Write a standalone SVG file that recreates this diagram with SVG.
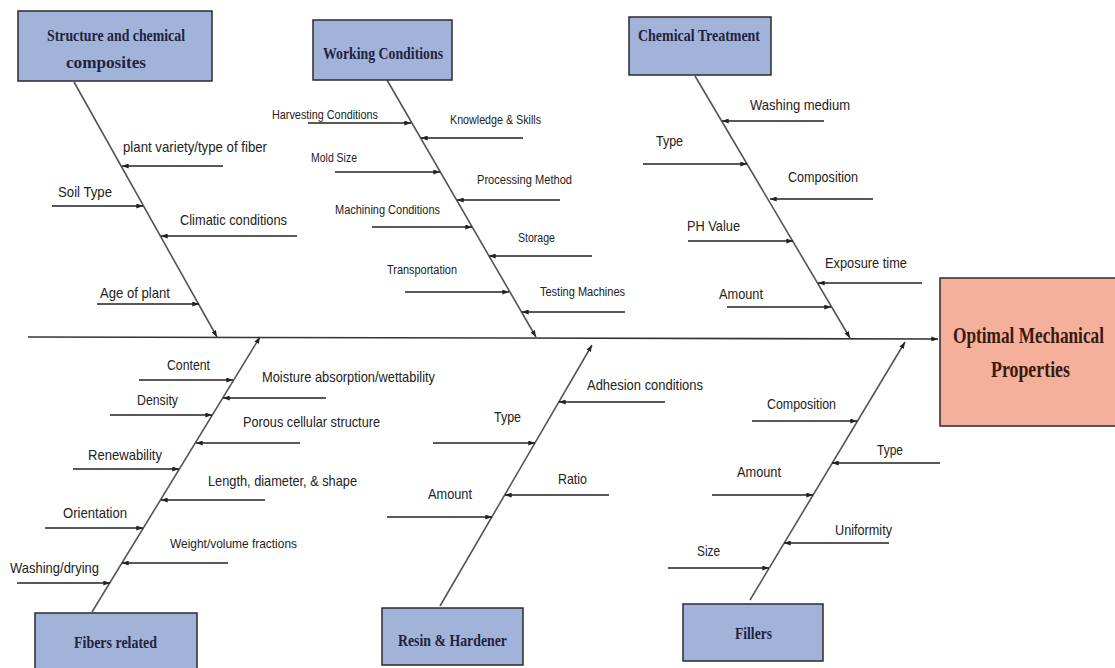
<svg xmlns="http://www.w3.org/2000/svg" width="1115" height="668" viewBox="0 0 1115 668">
<defs>
<marker id="ah" viewBox="0 0 8 6" refX="8" refY="3" markerWidth="7" markerHeight="5" markerUnits="userSpaceOnUse" orient="auto">
<path d="M0,0 L8,3 L0,6 Z" fill="#222"/>
</marker>
</defs>
<style>
.box{fill:#a2b3da;stroke:#2b2b2b;stroke-width:1.5}
.res{fill:#f4b09a;stroke:#2b2b2b;stroke-width:1.5}
.bt{font-family:"Liberation Serif",serif;font-weight:bold;font-size:17px;fill:#1e2340}
.rt{font-family:"Liberation Serif",serif;font-weight:bold;font-size:18px;fill:#3a1a10}
.lb{font-family:"Liberation Sans",sans-serif;font-size:15px;fill:#222}
.sm{font-family:"Liberation Sans",sans-serif;font-size:12px;fill:#222}
.bone{stroke:#555;stroke-width:1.6;fill:none}
.sub{stroke:#222;stroke-width:1.3;fill:none;marker-end:url(#ah)}
</style>
<rect width="1115" height="668" fill="#fff"/>

<g id="connectors">
<line x1="28" y1="337" x2="938" y2="339" stroke="#333" stroke-width="1.6" marker-end="url(#ah)"/>
<line class="bone" x1="74" y1="82" x2="217" y2="337" marker-end="url(#ah)"/>
<line class="bone" x1="387" y1="80" x2="536" y2="337" marker-end="url(#ah)"/>
<line class="bone" x1="695" y1="76" x2="850" y2="338" marker-end="url(#ah)"/>
<line class="bone" x1="92" y1="612" x2="260" y2="337" marker-end="url(#ah)"/>
<line class="bone" x1="440" y1="606" x2="592" y2="345" marker-end="url(#ah)"/>
<line class="bone" x1="750" y1="600" x2="905" y2="342" marker-end="url(#ah)"/>

<line class="sub" x1="223" y1="166" x2="122" y2="166"/>
<line class="sub" x1="52" y1="206" x2="143" y2="206"/>
<line class="sub" x1="297" y1="236" x2="161" y2="236"/>
<line class="sub" x1="97" y1="304" x2="199" y2="304"/>

<line class="sub" x1="308" y1="123" x2="411" y2="123"/>
<line class="sub" x1="523" y1="138" x2="421" y2="138"/>
<line class="sub" x1="335" y1="172" x2="440" y2="172"/>
<line class="sub" x1="560" y1="200" x2="457" y2="200"/>
<line class="sub" x1="372" y1="227" x2="472" y2="227"/>
<line class="sub" x1="592" y1="256" x2="489" y2="256"/>
<line class="sub" x1="405" y1="292" x2="509" y2="292"/>
<line class="sub" x1="625" y1="312" x2="522" y2="312"/>

<line class="sub" x1="824" y1="121" x2="722" y2="121"/>
<line class="sub" x1="643" y1="164" x2="747" y2="164"/>
<line class="sub" x1="873" y1="199" x2="770" y2="199"/>
<line class="sub" x1="688" y1="241" x2="793" y2="241"/>
<line class="sub" x1="922" y1="283" x2="818" y2="283"/>
<line class="sub" x1="727" y1="307" x2="831" y2="307"/>

<line class="sub" x1="139" y1="380" x2="233" y2="380"/>
<line class="sub" x1="326" y1="398" x2="223" y2="398"/>
<line class="sub" x1="110" y1="415" x2="212" y2="415"/>
<line class="sub" x1="300" y1="443" x2="196" y2="443"/>
<line class="sub" x1="73" y1="469" x2="179" y2="469"/>
<line class="sub" x1="265" y1="500" x2="161" y2="500"/>
<line class="sub" x1="45" y1="528" x2="143" y2="528"/>
<line class="sub" x1="228" y1="563" x2="122" y2="563"/>
<line class="sub" x1="17" y1="583" x2="110" y2="583"/>

<line class="sub" x1="665" y1="402" x2="559" y2="402"/>
<line class="sub" x1="433" y1="443" x2="535" y2="443"/>
<line class="sub" x1="609" y1="495" x2="505" y2="495"/>
<line class="sub" x1="387" y1="517" x2="492" y2="517"/>

<line class="sub" x1="752" y1="421" x2="857" y2="421"/>
<line class="sub" x1="940" y1="463" x2="832" y2="463"/>
<line class="sub" x1="712" y1="495" x2="813" y2="495"/>
<line class="sub" x1="889" y1="543" x2="784" y2="543"/>
<line class="sub" x1="668" y1="568" x2="769" y2="568"/>
</g>

<g id="labels">
<text class="lb" x="123" y="152" textLength="144" lengthAdjust="spacingAndGlyphs">plant variety/type of fiber</text>
<text class="lb" x="58" y="197" textLength="54" lengthAdjust="spacingAndGlyphs">Soil Type</text>
<text class="lb" x="180" y="225" textLength="107" lengthAdjust="spacingAndGlyphs">Climatic conditions</text>
<text class="lb" x="100" y="298" textLength="70" lengthAdjust="spacingAndGlyphs">Age of plant</text>

<text class="sm" x="272" y="119" textLength="106" lengthAdjust="spacingAndGlyphs">Harvesting Conditions</text>
<text class="sm" x="450" y="124" textLength="91" lengthAdjust="spacingAndGlyphs">Knowledge &amp; Skills</text>
<text class="sm" x="311" y="162" textLength="46" lengthAdjust="spacingAndGlyphs">Mold Size</text>
<text class="sm" x="477" y="184" textLength="95" lengthAdjust="spacingAndGlyphs">Processing Method</text>
<text class="sm" x="335" y="214" textLength="105" lengthAdjust="spacingAndGlyphs">Machining Conditions</text>
<text class="sm" x="518" y="242" textLength="37" lengthAdjust="spacingAndGlyphs">Storage</text>
<text class="sm" x="387" y="274" textLength="70" lengthAdjust="spacingAndGlyphs">Transportation</text>
<text class="sm" x="540" y="296" textLength="85" lengthAdjust="spacingAndGlyphs">Testing Machines</text>

<text class="lb" x="750" y="110" textLength="100" lengthAdjust="spacingAndGlyphs">Washing medium</text>
<text class="lb" x="656" y="146" textLength="27" lengthAdjust="spacingAndGlyphs">Type</text>
<text class="lb" x="788" y="182" textLength="70" lengthAdjust="spacingAndGlyphs">Composition</text>
<text class="lb" x="687" y="231" textLength="53" lengthAdjust="spacingAndGlyphs">PH Value</text>
<text class="lb" x="825" y="268" textLength="82" lengthAdjust="spacingAndGlyphs">Exposure time</text>
<text class="lb" x="719" y="299" textLength="44" lengthAdjust="spacingAndGlyphs">Amount</text>

<text class="lb" x="167" y="370" textLength="43" lengthAdjust="spacingAndGlyphs">Content</text>
<text class="lb" x="262" y="382" textLength="173" lengthAdjust="spacingAndGlyphs">Moisture absorption/wettability</text>
<text class="lb" x="137" y="405" textLength="41" lengthAdjust="spacingAndGlyphs">Density</text>
<text class="lb" x="243" y="427" textLength="137" lengthAdjust="spacingAndGlyphs">Porous cellular structure</text>
<text class="lb" x="88" y="460" textLength="74" lengthAdjust="spacingAndGlyphs">Renewability</text>
<text class="lb" x="208" y="486" textLength="149" lengthAdjust="spacingAndGlyphs">Length, diameter, &amp; shape</text>
<text class="lb" x="63" y="518" textLength="64" lengthAdjust="spacingAndGlyphs">Orientation</text>
<text class="lb" x="170" y="548" textLength="127" lengthAdjust="spacingAndGlyphs" style="font-size:13px">Weight/volume fractions</text>
<text class="lb" x="10" y="573" textLength="89" lengthAdjust="spacingAndGlyphs">Washing/drying</text>

<text class="lb" x="587" y="390" textLength="116" lengthAdjust="spacingAndGlyphs">Adhesion conditions</text>
<text class="lb" x="494" y="422" textLength="27" lengthAdjust="spacingAndGlyphs">Type</text>
<text class="lb" x="558" y="484" textLength="29" lengthAdjust="spacingAndGlyphs">Ratio</text>
<text class="lb" x="428" y="499" textLength="44" lengthAdjust="spacingAndGlyphs">Amount</text>

<text class="lb" x="767" y="409" textLength="69" lengthAdjust="spacingAndGlyphs">Composition</text>
<text class="lb" x="877" y="455" textLength="26" lengthAdjust="spacingAndGlyphs">Type</text>
<text class="lb" x="737" y="477" textLength="44" lengthAdjust="spacingAndGlyphs">Amount</text>
<text class="lb" x="835" y="535" textLength="57" lengthAdjust="spacingAndGlyphs">Uniformity</text>
<text class="lb" x="697" y="556" textLength="23" lengthAdjust="spacingAndGlyphs">Size</text>
</g>

<g id="node-structure">
<rect class="box" x="18" y="11" width="194" height="70"/>
<text class="bt" x="47" y="41" textLength="138" lengthAdjust="spacingAndGlyphs">Structure and chemical</text>
<text class="bt" x="66" y="68" textLength="80" lengthAdjust="spacingAndGlyphs">composites</text>
</g>
<g id="node-working">
<rect class="box" x="313" y="20" width="139" height="60"/>
<text class="bt" x="323" y="59" textLength="120" lengthAdjust="spacingAndGlyphs">Working Conditions</text>
</g>
<g id="node-chemical">
<rect class="box" x="629" y="17" width="142" height="58"/>
<text class="bt" x="638" y="41" textLength="122" lengthAdjust="spacingAndGlyphs">Chemical Treatment</text>
</g>
<g id="node-fibers">
<rect class="box" x="35" y="613" width="162" height="60"/>
<text class="bt" x="74" y="648" textLength="83" lengthAdjust="spacingAndGlyphs">Fibers related</text>
</g>
<g id="node-resin">
<rect class="box" x="382" y="608" width="141" height="57"/>
<text class="bt" x="398" y="646" textLength="109" lengthAdjust="spacingAndGlyphs">Resin &amp; Hardener</text>
</g>
<g id="node-fillers">
<rect class="box" x="683" y="604" width="140" height="57"/>
<text class="bt" x="735" y="639" textLength="37" lengthAdjust="spacingAndGlyphs">Fillers</text>
</g>
<g id="node-result">
<rect class="res" x="940" y="278" width="178" height="148"/>
<text class="rt" transform="translate(953,343) scale(1,1.3)" textLength="151" lengthAdjust="spacingAndGlyphs">Optimal Mechanical</text>
<text class="rt" transform="translate(991,377) scale(1,1.3)" textLength="79" lengthAdjust="spacingAndGlyphs">Properties</text>
</g>
</svg>
